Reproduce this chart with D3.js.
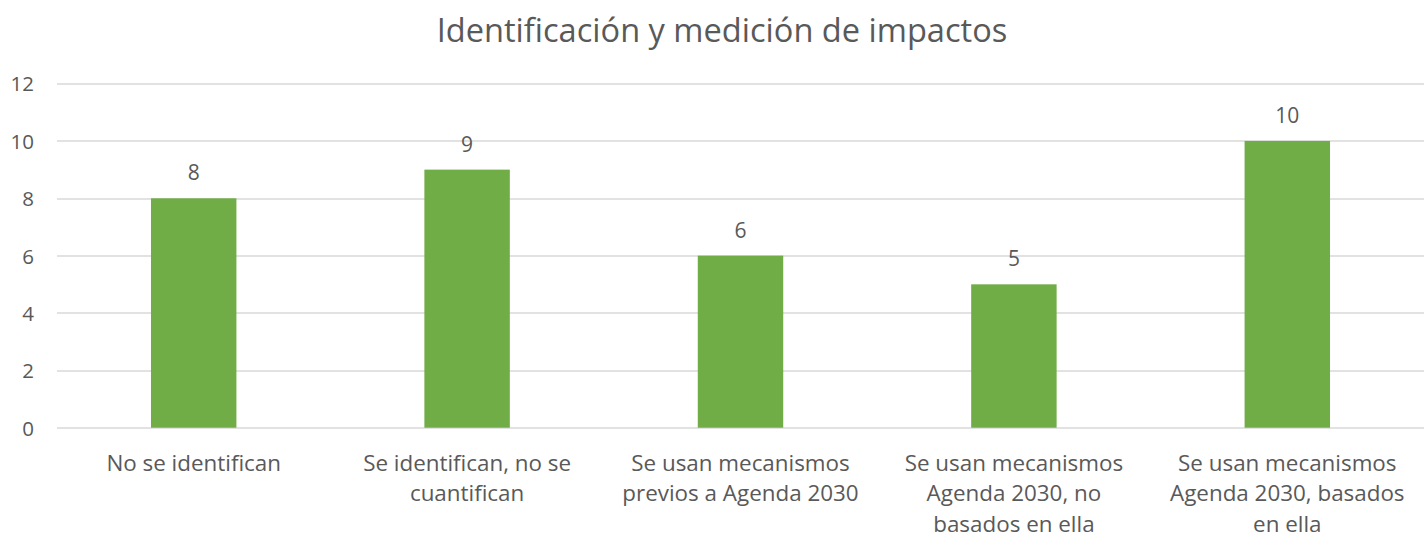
<!DOCTYPE html>
<html>
<head>
<meta charset="utf-8">
<script src="https://cdn.jsdelivr.net/npm/d3@7"></script>
<style>
  body { margin: 0; background: #fff; }
  svg text { font-family: "Open Sans", sans-serif; fill: #595959; }
</style>
</head>
<body>
<svg id="chart" width="1424" height="540"></svg>
<script>
// chart data
var title = "Identificación y medición de impactos"
var categories = [
    "No se identifican",
    "Se identifican, no se\ncuantifican",
    "Se usan mecanismos\nprevios a Agenda 2030",
    "Se usan mecanismos\nAgenda 2030, no\nbasados en ella",
    "Se usan mecanismos\nAgenda 2030, basados\nen ella"
]
var values = [8, 9, 6, 5, 10]
var yTicks = [0, 2, 4, 6, 8, 10, 12]

var margin = {top: 83.6, right: 0, bottom: 112.3, left: 57},
    width = 1424 - margin.left - margin.right,
    height = 540 - margin.top - margin.bottom

var svg = d3.select("#chart")

// title
svg.append("text")
    .attr("x", 722)
    .attr("y", 42)
    .attr("text-anchor", "middle")
    .style("font-size", "32.6px")
    .text(title)

var g = svg.append("g")
    .attr("transform", "translate(" + margin.left + "," + margin.top + ")")

var x = d3.scaleBand()
    .domain(categories)
    .range([0, width])
    .padding(0)

var y = d3.scaleLinear()
    .domain([0, 12])
    .range([height, 0])

var barWidth = x.bandwidth() * 0.3125

// gridlines
g.selectAll(".grid").data(yTicks).enter()
    .append("line")
    .attr("class", "grid")
    .attr("x1", 0)
    .attr("x2", width)
    .attr("y1", function(d) { return Math.round(y(d)) + 0.5 })
    .attr("y2", function(d) { return Math.round(y(d)) + 0.5 })
    .attr("stroke", "#d9d9d9")
    .attr("stroke-width", 1.5)

// y axis labels
var yAxis = d3.axisLeft(y).tickValues(yTicks).tickSize(0).tickPadding(23)
var yg = g.append("g").call(yAxis)
yg.select(".domain").remove()
yg.selectAll("text")
    .style("font-size", "20.5px")
    .attr("fill", "#595959")
    .attr("dy", "0.36em")

// bars
g.selectAll(".bar").data(values).enter()
    .append("rect")
    .attr("class", "bar")
    .attr("x", function(d, i) { return x(categories[i]) + (x.bandwidth() - barWidth) / 2 })
    .attr("width", barWidth)
    .attr("y", function(d) { return y(d) })
    .attr("height", function(d) { return height - y(d) })
    .attr("fill", "#70ad47")

// value labels
g.selectAll(".val").data(values).enter()
    .append("text")
    .attr("class", "val")
    .attr("x", function(d, i) { return x(categories[i]) + x.bandwidth() / 2 })
    .attr("y", function(d) { return y(d) - 18 })
    .attr("text-anchor", "middle")
    .style("font-size", "21px")
    .text(function(d) { return d })

// category labels (wrapped)
var xg = g.append("g").attr("transform", "translate(0," + height + ")")
categories.forEach(function(c, i) {
    var t = xg.append("text")
        .attr("x", x(c) + x.bandwidth() / 2)
        .attr("y", 43)
        .attr("text-anchor", "middle")
        .style("font-size", "22.4px")
    c.split("\n").forEach(function(line, j) {
        t.append("tspan")
            .attr("x", x(c) + x.bandwidth() / 2)
            .attr("dy", j === 0 ? 0 : 30.5)
            .text(line)
    })
})
</script>
</body>
</html>
